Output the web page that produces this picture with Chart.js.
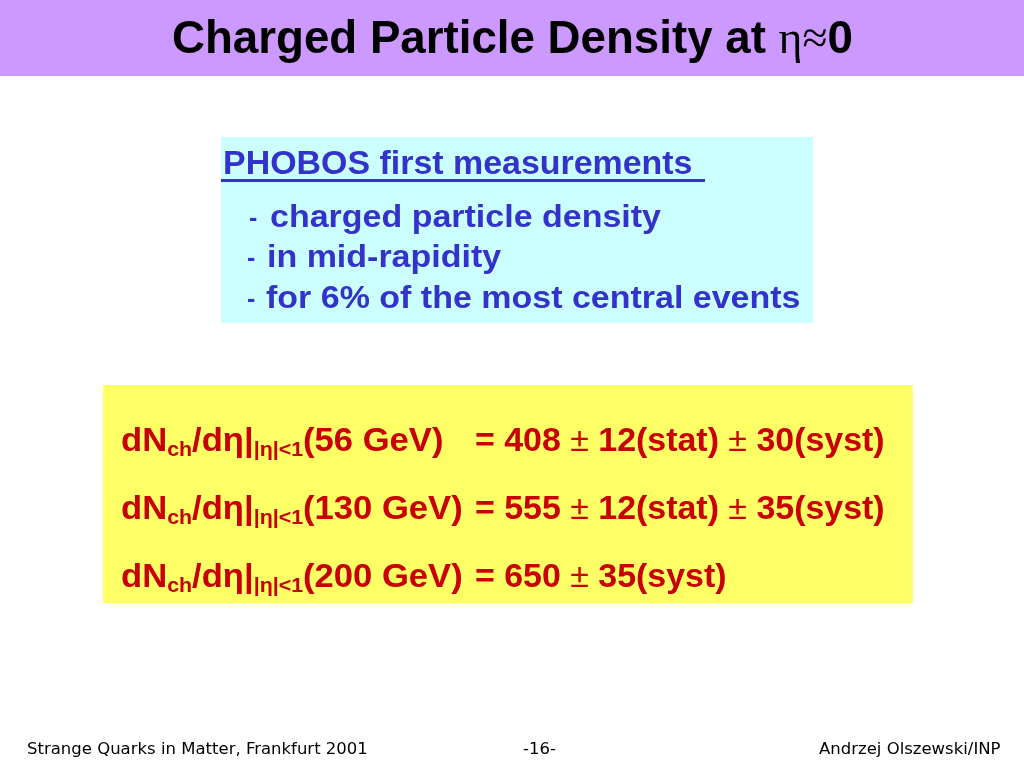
<!DOCTYPE html>
<html>
<head>
<meta charset="utf-8">
<script src="https://cdn.jsdelivr.net/npm/chart.js@4.4.1/dist/chart.umd.min.js"></script>
<style>
  html, body { margin: 0; padding: 0; background: #fff; }
  #slide { position: relative; width: 1024px; height: 768px; overflow: hidden; }
  #bg { position: absolute; left: 0; top: 0; }
  .t { position: absolute; white-space: pre; line-height: 1; transform-origin: 0 0;
       font-family: "Liberation Sans", Arial, sans-serif; font-weight: bold; }
  .bl { display: inline-block; width: 0; height: 0; vertical-align: baseline; }
  .title { font-size: 46px; color: #000; }
  .sym { font-family: "Liberation Serif", serif; font-weight: normal; }
  .blue { color: #3333cc; }
  .head { font-size: 34px; }
  .bullet { font-size: 31px; }
  .dash { font-size: 25px; }
  .red { color: #c80000; font-size: 34px; }
  .sub { font-size: 21px; vertical-align: -5px; }
  .pm { font-weight: normal; }
  .foot { font-family: "DejaVu Sans", sans-serif; font-weight: normal; font-size: 15px; color: #000; }
  #uline { position: absolute; left: 221px; top: 179px; width: 484px; height: 3px; background: #3333cc; }
</style>
</head>
<body>
<div id="slide">
  <canvas id="bg" width="1024" height="768"></canvas>
  <div id="uline"></div>
</div>
<script>
// values
var energies = ['56 GeV', '130 GeV', '200 GeV'];
var dNdEta = [408, 555, 650];
var statErr = [12, 12, null];
var systErr = [30, 35, 35];
var bulletItems = ['charged particle density', 'in mid-rapidity', 'for 6% of the most central events'];
var footerTexts = ['Strange Quarks in Matter, Frankfurt 2001', '-16-', 'Andrzej Olszewski/INP'];

// coloured panels of the slide, painted by Chart.js
var panelPlugin = {
    id: 'panels',
    beforeDraw: function (chart) {
        var ctx = chart.ctx;
        ctx.save();
        ctx.fillStyle = '#cc99ff';
        ctx.fillRect(0, 0, 1024, 76);
        ctx.fillStyle = '#ccffff';
        ctx.fillRect(221, 137, 592, 186);
        ctx.fillStyle = '#ffff66';
        ctx.fillRect(103, 385, 810, 218);
        ctx.restore();
    }
};
new Chart(document.getElementById('bg'), {
    type: 'bar',
    data: { labels: [], datasets: [] },
    options: {
        responsive: false,
        animation: false,
        devicePixelRatio: 1,
        layout: { padding: 0 },
        plugins: { legend: { display: false }, tooltip: { enabled: false } },
        scales: { x: { display: false }, y: { display: false } }
    },
    plugins: [panelPlugin]
});

var slide = document.getElementById('slide');
function mk(html, cls) {
    var d = document.createElement('div');
    d.className = 't ' + cls;
    d.innerHTML = html + '<span class="bl"></span>';
    slide.appendChild(d);
    return d;
}
function place(el, left, baseline, sx) {
    el.style.left = left + 'px';
    el.style.top = '0px';
    el.style.transform = 'scaleX(' + sx + ')';
    var off = el.querySelector('.bl').getBoundingClientRect().bottom - el.getBoundingClientRect().top;
    el.style.top = (baseline - off) + 'px';
}

function layout() {
    // title
    var title = mk('Charged Particle Density at <span class="sym">η≈</span>0', 'title');
    place(title, 172, 53, 681 / title.offsetWidth);

    // PHOBOS box
    var head = mk('PHOBOS first measurements', 'blue head');
    place(head, 223, 174, 470 / head.offsetWidth);
    var bx = [270, 267, 266], dx = [249, 247, 247], by = [227, 267, 308];
    var bEls = bulletItems.map(function (s) { return mk(s, 'blue bullet'); });
    var bsx = 535 / bEls[2].offsetWidth;
    bEls.forEach(function (el, i) {
        place(el, bx[i], by[i], bsx);
        var d = mk('-', 'blue dash');
        place(d, dx[i], by[i] - 1, 1);
    });

    // results box
    var yb = [451, 519, 587];
    var rEls = [];
    energies.forEach(function (e, i) {
        var l = mk('dN<span class="sub">ch</span>/dη|<span class="sub">|η|&lt;1</span>(' + e + ')', 'red');
        var r = '= ' + dNdEta[i];
        if (statErr[i] !== null) r += ' <span class="pm">±</span> ' + statErr[i] + '(stat)';
        r += ' <span class="pm">±</span> ' + systErr[i] + '(syst)';
        rEls.push([l, mk(r, 'red')]);
    });
    var lsx = 342 / rEls[1][0].offsetWidth;
    var rsx = 410 / rEls[1][1].offsetWidth;
    rEls.forEach(function (p, i) {
        place(p[0], 121, yb[i], lsx);
        place(p[1], 475, yb[i], rsx);
    });

    // footer
    var f = footerTexts.map(function (s) { return mk(s, 'foot'); });
    var fsx = 341 / f[0].offsetWidth;
    place(f[0], 27, 754, fsx);
    place(f[1], 523, 754, fsx);
    place(f[2], 1000 - f[2].offsetWidth * fsx, 754, fsx);
}
document.fonts.ready.then(layout);
</script>
</body>
</html>
